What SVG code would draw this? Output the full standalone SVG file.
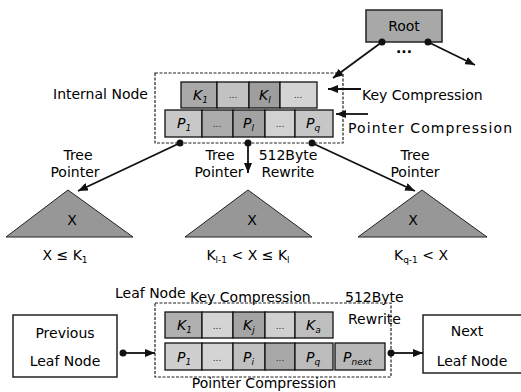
<svg xmlns="http://www.w3.org/2000/svg" width="521" height="392" viewBox="0 0 521 392">
<style>
.t{font-family:"DejaVu Sans","Verdana",sans-serif;font-size:14px;fill:#000}
.c{font-family:"DejaVu Sans","Verdana",sans-serif;font-size:14px;font-style:italic;fill:#000}
.s{font-size:9px}
.d{font-family:"DejaVu Sans",sans-serif;font-size:9px;fill:#222}
.cell{stroke:#111;stroke-width:1.3}
.dash{fill:none;stroke:#222;stroke-width:1.2;stroke-dasharray:3 1.5}
.box{fill:#fff;stroke:#222;stroke-width:1.5}
.ln{stroke:#111;stroke-width:1.8;fill:none}
.tri{fill:#979797;stroke:#222;stroke-width:1}
.dot{fill:#111}
</style>
<defs>
<marker id="ah" viewBox="0 0 10 8" refX="10" refY="4" markerWidth="10" markerHeight="8" markerUnits="userSpaceOnUse" orient="auto">
<path d="M0,0 L10,4 L0,8 z" fill="#111"/>
</marker>
</defs>

<g id="root">
<rect x="366" y="10" width="76" height="32" fill="#a8a8a8" stroke="#222" stroke-width="1.5"/>
<text class="t" x="404" y="31" text-anchor="middle">Root</text>
<text class="t" x="404" y="53" text-anchor="middle" font-weight="bold">...</text>
</g>

<g id="internal-node">
<rect class="dash" x="155" y="73" width="188" height="70"/>
<text class="t" x="53" y="99">Internal Node</text>
<rect class="cell" x="181" y="82" width="36" height="26" fill="#a9a9a9"/>
<rect class="cell" x="217" y="82" width="32" height="26" fill="#c2c2c2"/>
<rect class="cell" x="249" y="82" width="31" height="26" fill="#9e9e9e"/>
<rect class="cell" x="280" y="82" width="37" height="26" fill="#d4d4d4"/>
<text class="c" x="193" y="100">K<tspan class="s" dy="3">1</tspan></text>
<text class="d" x="233" y="98" text-anchor="middle">...</text>
<text class="c" x="259" y="100">K<tspan class="s" dy="3">l</tspan></text>
<text class="d" x="298" y="98" text-anchor="middle">...</text>
<rect class="cell" x="165" y="110" width="37" height="27" fill="#c8c8c8"/>
<rect class="cell" x="202" y="110" width="31" height="27" fill="#acacac"/>
<rect class="cell" x="233" y="110" width="32" height="27" fill="#a2a2a2"/>
<rect class="cell" x="265" y="110" width="30" height="27" fill="#d2d2d2"/>
<rect class="cell" x="295" y="110" width="38" height="27" fill="#c6c6c6"/>
<text class="c" x="177" y="128">P<tspan class="s" dy="3">1</tspan></text>
<text class="d" x="217" y="127" text-anchor="middle">...</text>
<text class="c" x="243" y="128">P<tspan class="s" dy="3">l</tspan></text>
<text class="d" x="280" y="127" text-anchor="middle">...</text>
<text class="c" x="306" y="128">P<tspan class="s" dy="3">q</tspan></text>
<text class="t" x="362" y="100">Key Compression</text>
<text class="t" x="348" y="133" textLength="164" lengthAdjust="spacing">Pointer Compression</text>
</g>

<g id="subtree-1">
<path class="tri" d="M68,190 L6,237 L133,237 Z"/>
<text class="t" x="72" y="225" text-anchor="middle">X</text>
<text class="t" x="65" y="260" text-anchor="middle">X ≤ K<tspan class="s" dy="3">1</tspan></text>
</g>
<g id="subtree-2">
<path class="tri" d="M248,190 L185,237 L312,237 Z"/>
<text class="t" x="252" y="225" text-anchor="middle">X</text>
<text class="t" x="248" y="260" text-anchor="middle">K<tspan class="s" dy="3">l-1</tspan><tspan dy="-3"> &lt; X ≤ K</tspan><tspan class="s" dy="3">l</tspan></text>
</g>
<g id="subtree-3">
<path class="tri" d="M422,190 L358,237 L487,237 Z"/>
<text class="t" x="413" y="225" text-anchor="middle">X</text>
<text class="t" x="421" y="260" text-anchor="middle">K<tspan class="s" dy="3">q-1</tspan><tspan dy="-3"> &lt; X</tspan></text>
</g>

<g id="leaf-node">
<rect class="dash" x="155" y="303" width="236" height="74"/>
<text class="t" x="115" y="298">Leaf Node</text>
<text class="t" x="190" y="302">Key Compression</text>
<text class="t" x="345" y="302">512Byte</text>
<text class="t" x="348" y="324">Rewrite</text>
<rect class="cell" x="165" y="312" width="37" height="26" fill="#b0b0b0"/>
<rect class="cell" x="202" y="312" width="31" height="26" fill="#d4d4d4"/>
<rect class="cell" x="233" y="312" width="32" height="26" fill="#a4a4a4"/>
<rect class="cell" x="265" y="312" width="30" height="26" fill="#d0d0d0"/>
<rect class="cell" x="295" y="312" width="38" height="26" fill="#bfbfbf"/>
<text class="c" x="177" y="330">K<tspan class="s" dy="3">1</tspan></text>
<text class="d" x="217" y="329" text-anchor="middle">...</text>
<text class="c" x="243" y="330">K<tspan class="s" dy="3">j</tspan></text>
<text class="d" x="280" y="329" text-anchor="middle">...</text>
<text class="c" x="306" y="330">K<tspan class="s" dy="3">a</tspan></text>
<rect class="cell" x="165" y="343" width="37" height="27" fill="#cfcfcf"/>
<rect class="cell" x="202" y="343" width="31" height="27" fill="#d4d4d4"/>
<rect class="cell" x="233" y="343" width="32" height="27" fill="#c0c0c0"/>
<rect class="cell" x="265" y="343" width="30" height="27" fill="#a8a8a8"/>
<rect class="cell" x="295" y="343" width="38" height="27" fill="#bcbcbc"/>
<rect class="cell" x="335" y="343" width="50" height="27" fill="#b8b8b8"/>
<text class="c" x="177" y="362">P<tspan class="s" dy="3">1</tspan></text>
<text class="d" x="217" y="361" text-anchor="middle">...</text>
<text class="c" x="243" y="362">P<tspan class="s" dy="3">i</tspan></text>
<text class="d" x="280" y="361" text-anchor="middle">...</text>
<text class="c" x="306" y="362">P<tspan class="s" dy="3">q</tspan></text>
<text class="c" x="343" y="362">P<tspan class="s" dy="3">next</tspan></text>
<text class="t" x="264" y="388" text-anchor="middle">Pointer Compression</text>
</g>

<g id="prev-leaf">
<rect class="box" x="13" y="315" width="104" height="62"/>
<text class="t" x="65" y="338" text-anchor="middle">Previous</text>
<text class="t" x="65" y="366" text-anchor="middle">Leaf Node</text>
</g>

<g id="next-leaf">
<rect class="box" x="423" y="315" width="102" height="58"/>
<text class="t" x="467" y="336" text-anchor="middle">Next</text>
<text class="t" x="472" y="366" text-anchor="middle">Leaf Node</text>
</g>

<g id="connectors">
<line class="ln" x1="382" y1="42" x2="333" y2="78" marker-end="url(#ah)"/>
<line class="ln" x1="428" y1="42" x2="475" y2="65" marker-end="url(#ah)"/>
<circle class="dot" cx="382" cy="42" r="3.5"/>
<circle class="dot" cx="428" cy="42" r="3.5"/>
<line class="ln" x1="361" y1="89" x2="328" y2="89" marker-end="url(#ah)"/>
<line class="ln" x1="368" y1="114" x2="336" y2="114" marker-end="url(#ah)"/>
<line class="ln" x1="180" y1="143" x2="78" y2="191" marker-end="url(#ah)"/>
<line class="ln" x1="248" y1="143" x2="248" y2="173" marker-end="url(#ah)"/>
<line class="ln" x1="312" y1="143" x2="415" y2="191" marker-end="url(#ah)"/>
<circle class="dot" cx="180" cy="143" r="3.5"/>
<circle class="dot" cx="248" cy="143" r="3.5"/>
<circle class="dot" cx="312" cy="143" r="3.5"/>
<line class="ln" x1="123" y1="353" x2="155" y2="353" marker-end="url(#ah)"/>
<circle class="dot" cx="123" cy="353" r="3.5"/>
<line class="ln" x1="391" y1="353" x2="423" y2="353" marker-end="url(#ah)"/>
<circle class="dot" cx="391" cy="353" r="3.5"/>
</g>
<g id="tree-labels">
<text class="t" x="78" y="160" text-anchor="middle">Tree</text>
<text class="t" x="75" y="177" text-anchor="middle">Pointer</text>
<text class="t" x="220" y="160" text-anchor="middle">Tree</text>
<text class="t" x="219" y="177" text-anchor="middle">Pointer</text>
<text class="t" x="288" y="160" text-anchor="middle">512Byte</text>
<text class="t" x="288" y="177" text-anchor="middle">Rewrite</text>
<text class="t" x="415" y="160" text-anchor="middle">Tree</text>
<text class="t" x="415" y="177" text-anchor="middle">Pointer</text>
</g>
</svg>
